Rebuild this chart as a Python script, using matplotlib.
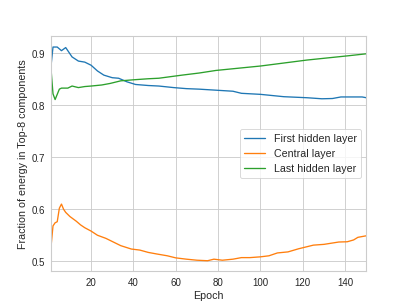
import matplotlib
matplotlib.use("Agg")
import matplotlib.pyplot as plt
import seaborn as sns

# valores (época -> fração de energia)
blue_ep = [1, 2, 4, 6, 8, 11, 14, 17, 20, 23, 26, 30, 33, 37, 41, 47, 52, 59, 65, 71,
           79, 87, 91, 100, 111, 122, 129, 134, 138, 148, 150]
blue = [0.873, 0.912, 0.912, 0.905, 0.911, 0.893, 0.885, 0.883, 0.877, 0.866, 0.858,
        0.853, 0.852, 0.845, 0.840, 0.838, 0.837, 0.834, 0.832, 0.831, 0.829, 0.827,
        0.823, 0.821, 0.8165, 0.8145, 0.8125, 0.813, 0.816, 0.816, 0.8145]

orange_ep = [1, 2, 3, 4, 5, 6, 7, 8, 10, 13, 15, 17, 20, 23, 27, 31, 34, 39, 43, 47,
             51, 56, 60, 65, 70, 75, 78, 82, 87, 91, 95, 100, 104, 108, 113, 118, 122,
             125, 130, 137, 141, 144, 146, 150]
orange = [0.525, 0.568, 0.574, 0.576, 0.602, 0.610, 0.600, 0.594, 0.586, 0.577, 0.570,
          0.5645, 0.558, 0.550, 0.544, 0.536, 0.530, 0.5235, 0.5215, 0.517, 0.514,
          0.5105, 0.5065, 0.504, 0.502, 0.501, 0.504, 0.502, 0.504, 0.507, 0.507,
          0.5085, 0.5105, 0.516, 0.518, 0.524, 0.528, 0.531, 0.5325, 0.537, 0.5375,
          0.541, 0.546, 0.549]

green_ep = [1, 2, 3, 5, 6, 9, 11, 14, 17, 20, 25, 29, 34, 40, 47, 52, 63, 71, 79, 100,
            122, 141, 150]
green = [0.873, 0.822, 0.811, 0.831, 0.833, 0.833, 0.837, 0.834, 0.836, 0.837, 0.839,
         0.842, 0.847, 0.849, 0.851, 0.852, 0.858, 0.862, 0.867, 0.8755, 0.887, 0.895,
         0.899]

labels = ["First hidden layer", "Central layer", "Last hidden layer"]

sns.set_theme(style="whitegrid", palette="tab10")
plt.rcParams['font.family'] = ['Liberation Sans', 'DejaVu Sans']
plt.rcParams['xtick.major.size'] = 3.5
plt.rcParams['ytick.major.size'] = 3.5
plt.rcParams['legend.fontsize'] = 12

fig, ax = plt.subplots(figsize=(6.4, 4.8), dpi=63.6)
ax.plot(blue_ep, blue, label=labels[0])
ax.plot(orange_ep, orange, label=labels[1])
ax.plot(green_ep, green, label=labels[2])
ax.set_xlim(1, 150)
ax.set_xlabel("Epoch")
ax.set_ylabel("Fraction of energy in Top-8 components")
ax.legend(loc="center right")

fig.savefig("out.png", dpi=63.6)
